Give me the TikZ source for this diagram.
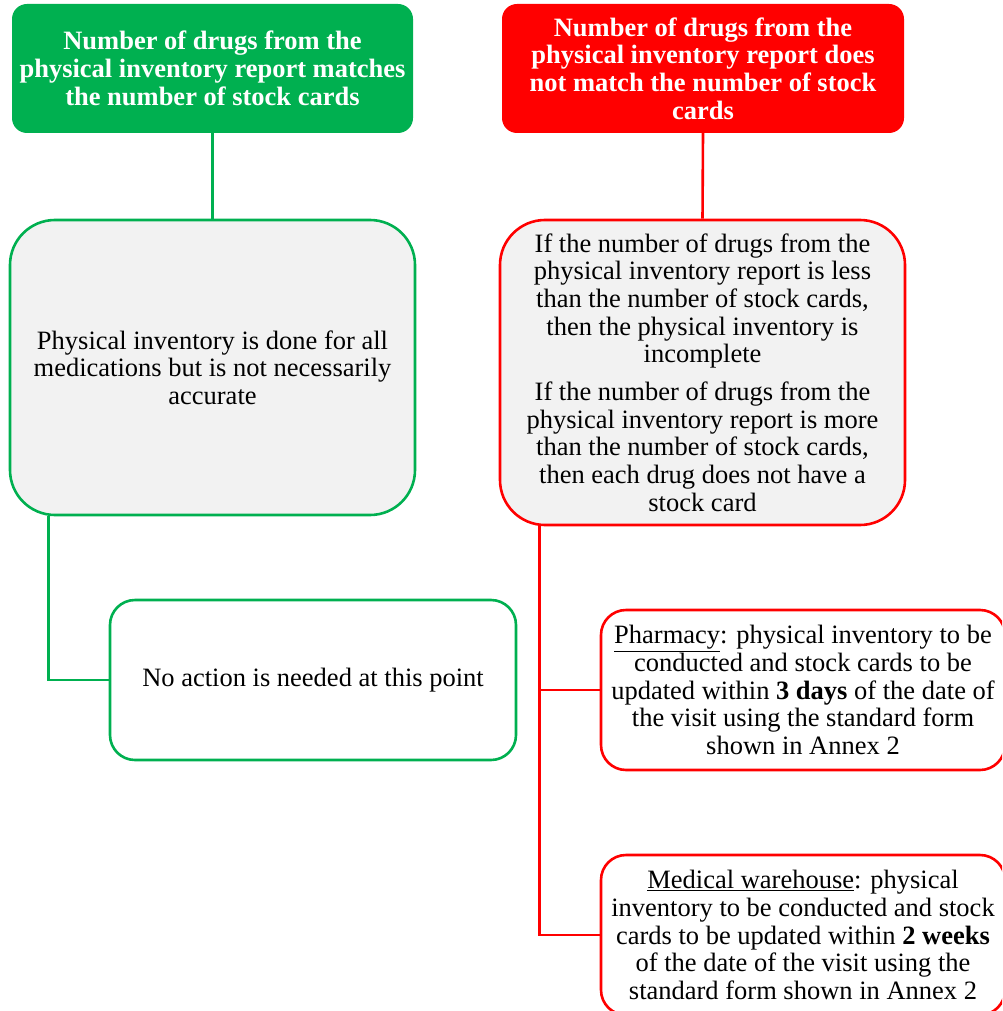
\documentclass[tikz,border=0pt]{standalone}
\usepackage{fontspec}
\setmainfont{Liberation Serif}
\usetikzlibrary{calc}
\definecolor{okgreen}{HTML}{00B050}
\definecolor{badred}{HTML}{FF0000}
\definecolor{softgray}{HTML}{F2F2F2}
\begin{document}
\begin{tikzpicture}[x=1pt,y=-1pt,
  every node/.style={align=center,inner sep=0pt,font=\fontsize{26.5}{27.7}\selectfont},
  headbox/.style={rectangle,rounded corners=15pt,text=white,font=\fontsize{26.5}{27.7}\selectfont\bfseries},
  infobox/.style={rectangle,rounded corners=45pt,fill=softgray,line width=2.6pt},
  actbox/.style={rectangle,rounded corners=25pt,fill=white,line width=2.6pt},
  glink/.style={draw=okgreen,line width=2.6pt},
  rlink/.style={draw=badred,line width=2.6pt}]
\clip (0,0) rectangle (1002,1011);
\fill[white] (0,0) rectangle (1002,1011);

% headings
\node[headbox,fill=okgreen,minimum width=401pt,minimum height=129pt] (g1) at (212.5,68.5)
  {Number of drugs from the\\physical inventory report matches\\the number of stock cards};
\node[headbox,fill=badred,minimum width=402pt,minimum height=129pt] (r1) at (703,68.5)
  {Number of drugs from the\\physical inventory report does\\not match the number of stock\\cards};

% explanations
\node[infobox,draw=okgreen,minimum width=405pt,minimum height=295pt] (g2) at (212.5,367.5)
  {Physical inventory is done for all\\medications but is not necessarily\\accurate};
\node[infobox,draw=badred,minimum width=405pt,minimum height=305pt] (r2) at (702.5,372.5)
  {If the number of drugs from the\\physical inventory report is less\\than the number of stock cards,\\then the physical inventory is\\incomplete\\[10pt]
   If the number of drugs from the\\physical inventory report is more\\than the number of stock cards,\\then each drug does not have a\\stock card};

% actions
\node[actbox,draw=okgreen,minimum width=406pt,minimum height=160pt] (g3) at (313,680)
  {No action is needed at this point};
\node[actbox,draw=badred,minimum width=404pt,minimum height=160pt] (r3) at (803,690)
  {\underline{Pharmacy}: physical inventory to be\\conducted and stock cards to be\\updated within \textbf{3 days} of the date of\\the visit using the standard form\\shown in Annex 2};
\node[actbox,draw=badred,minimum width=404pt,minimum height=160pt] (r4) at (803,935)
  {\underline{Medical warehouse}: physical\\inventory to be conducted and stock\\cards to be updated within \textbf{2 weeks}\\of the date of the visit using the\\standard form shown in Annex 2};

% connectors
\draw[glink] (g1.south) -- (g2.north);
\draw[rlink] (r1.south) -- (r2.north);
\draw[glink] ([xshift=40pt]g2.south west) |- (g3.west);
\draw[rlink] ([xshift=41pt]r2.south west) |- (r3.west);
\draw[rlink] ([xshift=41pt]r2.south west) |- (r4.west);
\end{tikzpicture}
\end{document}
